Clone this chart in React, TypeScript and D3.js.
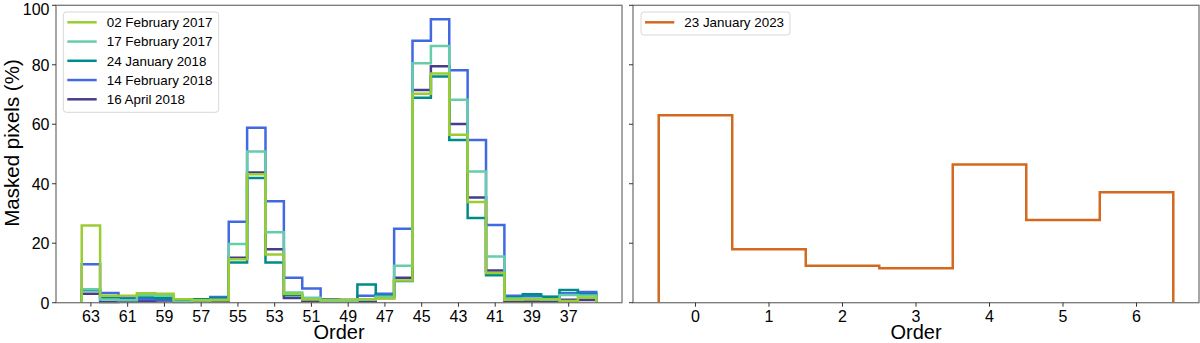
import React from "react";
import * as d3 from "d3";

// orders on the left panel, read left to right (axis is reversed)
const ordersLeft = [63, 62, 61, 60, 59, 58, 57, 56, 55, 54, 53, 52, 51, 50, 49, 48, 47, 46, 45, 44, 43, 42, 41, 40, 39, 38, 37, 36];
const leftTicks = [63, 61, 59, 57, 55, 53, 51, 49, 47, 45, 43, 41, 39, 37];

const feb02_2017 = [26.0, 2.3, 2.3, 3.2, 3.0, 1.2, 0.8, 0.8, 14.6, 43.2, 16.2, 3.0, 1.1, 0.9, 1.0, 1.2, 1.4, 7.5, 70.3, 77.1, 56.5, 33.9, 10.0, 1.0, 1.1, 1.2, 0.6, 1.7];
const feb17_2017 = [4.5, 1.1, 0.8, 2.5, 2.3, 0.2, 0.7, 1.0, 19.7, 50.8, 23.7, 3.4, 1.7, 0.5, 0.5, 1.0, 2.0, 12.4, 80.5, 86.3, 68.2, 44.1, 15.5, 1.4, 1.5, 1.0, 2.6, 2.4];
const jan24_2018 = [4.2, 1.7, 1.1, 1.9, 1.5, 0.9, 1.2, 1.5, 13.5, 41.9, 13.5, 2.5, 1.5, 0.8, 0.8, 6.1, 2.3, 7.3, 68.9, 76.1, 54.7, 28.5, 9.2, 1.8, 2.8, 2.0, 4.3, 2.8];
const feb14_2018 = [12.9, 3.3, 1.5, 1.2, 1.1, 0.9, 1.2, 1.9, 27.2, 58.8, 34.1, 8.4, 4.8, 1.2, 1.0, 2.3, 3.0, 24.9, 88.1, 95.3, 78.2, 54.7, 26.1, 2.3, 2.3, 1.9, 3.2, 3.6];
const apr16_2018 = [3.0, 0.2, 0.4, 0.5, 0.7, 0.4, 0.5, 0.5, 15.1, 43.8, 18.0, 1.6, 0.6, 0.5, 0.3, 0.3, 1.6, 8.4, 71.5, 79.5, 60.1, 35.4, 10.8, 0.6, 0.5, 0.5, 1.0, 0.9];

const ordersRight = [0, 1, 2, 3, 4, 5, 6];
const jan23_2023 = [63.0, 18.0, 12.4, 11.6, 46.5, 27.8, 37.1];

const yTicks = [0, 20, 40, 60, 80, 100];

const leftSeries = [
	{ label: "02 February 2017", color: "#9acd32", values: feb02_2017 },
	{ label: "17 February 2017", color: "#66cdaa", values: feb17_2017 },
	{ label: "24 January 2018", color: "#008b8b", values: jan24_2018 },
	{ label: "14 February 2018", color: "#4169e1", values: feb14_2018 },
	{ label: "16 April 2018", color: "#483d8b", values: apr16_2018 },
];

const font = "'Liberation Sans', Arial, Helvetica, sans-serif";
const top = 5.3;
const bottom = 302.7;
const spine = "#777";
const lw = 2.5;

// step outline like matplotlib histtype="step"
function stepPoints(orders, values) {
	const desc = orders[1] < orders[0];
	const pts = [];
	orders.forEach((o, i) => {
		const a = o + (desc ? 0.5 : -0.5);
		const b = o + (desc ? -0.5 : 0.5);
		if (i === 0) pts.push([a, 0]);
		pts.push([a, values[i]]);
		pts.push([b, values[i]]);
		if (i === orders.length - 1) pts.push([b, 0]);
	});
	return pts;
}

export default function App() {
	const xl = d3.scaleLinear().domain([64.9, 34.1]).range([56, 622]);
	const xr = d3.scaleLinear().domain([-0.85, 6.85]).range([633, 1199]);
	const y = d3.scaleLinear().domain([0, 100]).range([bottom, top]);

	const lineL = d3.line().x((d) => xl(d[0])).y((d) => y(d[1]));
	const lineR = d3.line().x((d) => xr(d[0])).y((d) => y(d[1]));

	// green ends up on top, as in the original
	const drawOrder = [...leftSeries].reverse();

	const frame = (x0, x1) => (
		<rect x={x0} y={top} width={x1 - x0} height={bottom - top} fill="none" stroke={spine} strokeWidth={1.3} />
	);

	const yAxis = (x0, labels) =>
		yTicks.map((t) => (
			<g key={t}>
				<line x1={x0 - 4} x2={x0} y1={y(t)} y2={y(t)} stroke="#333" strokeWidth={1} />
				{labels && (
					// keep the top label inside the picture
					<text x={x0 - 6.5} y={Math.max(y(t) + 5.8, 14.6)} textAnchor="end" fontSize={16}>
						{t}
					</text>
				)}
			</g>
		));

	const xAxis = (scale, ticks) =>
		ticks.map((t) => (
			<g key={t}>
				<line x1={scale(t)} x2={scale(t)} y1={bottom} y2={bottom + 4} stroke="#333" strokeWidth={1} />
				<text x={scale(t)} y={322} textAnchor="middle" fontSize={16}>
					{t}
				</text>
			</g>
		));

	return (
		<svg
			width={1200}
			height={343}
			style={{ position: "absolute", left: 0, top: 0, background: "#fff" }}
			fontFamily={font}
		>
			<rect width={1200} height={343} fill="#fff" />

			{/* left panel */}
			{drawOrder.map((s) => (
				<path
					key={s.label}
					d={lineL(stepPoints(ordersLeft, s.values))}
					fill="none"
					stroke={s.color}
					strokeWidth={lw}
					strokeLinejoin="miter"
				/>
			))}
			{frame(56, 622)}
			{yAxis(56, true)}
			{xAxis(xl, leftTicks)}
			<text x={339} y={338.5} textAnchor="middle" fontSize={20}>
				Order
			</text>
			<text transform="translate(18.8,143) rotate(-90)" textAnchor="middle" fontSize={20.5}>
				Masked pixels (%)
			</text>

			<g>
				<rect x={63.3} y={12} width={155.4} height={100.3} rx={3} fill="#fff" fillOpacity={0.8} stroke="#d8d8d8" strokeWidth={1} />
				{leftSeries.map((s, i) => (
					<g key={s.label}>
						<line x1={67.3} x2={96.7} y1={22.3 + i * 19.25} y2={22.3 + i * 19.25} stroke={s.color} strokeWidth={lw} />
						<text x={106.7} y={22.3 + i * 19.25} dy="0.36em" fontSize={13.4}>
							{s.label}
						</text>
					</g>
				))}
			</g>

			{/* right panel */}
			<path
				d={lineR(stepPoints(ordersRight, jan23_2023))}
				fill="none"
				stroke="#d2691e"
				strokeWidth={lw}
				strokeLinejoin="miter"
			/>
			{frame(633, 1199)}
			{yAxis(633, false)}
			{xAxis(xr, ordersRight)}
			<text x={916} y={338.5} textAnchor="middle" fontSize={20}>
				Order
			</text>
			<g>
				<rect x={641} y={12} width={149} height={23} rx={3} fill="#fff" fillOpacity={0.8} stroke="#d8d8d8" strokeWidth={1} />
				<line x1={645} x2={674.3} y1={22.3} y2={22.3} stroke="#d2691e" strokeWidth={lw} />
				<text x={684.3} y={22.3} dy="0.36em" fontSize={13.4}>
					23 January 2023
				</text>
			</g>
		</svg>
	);
}
